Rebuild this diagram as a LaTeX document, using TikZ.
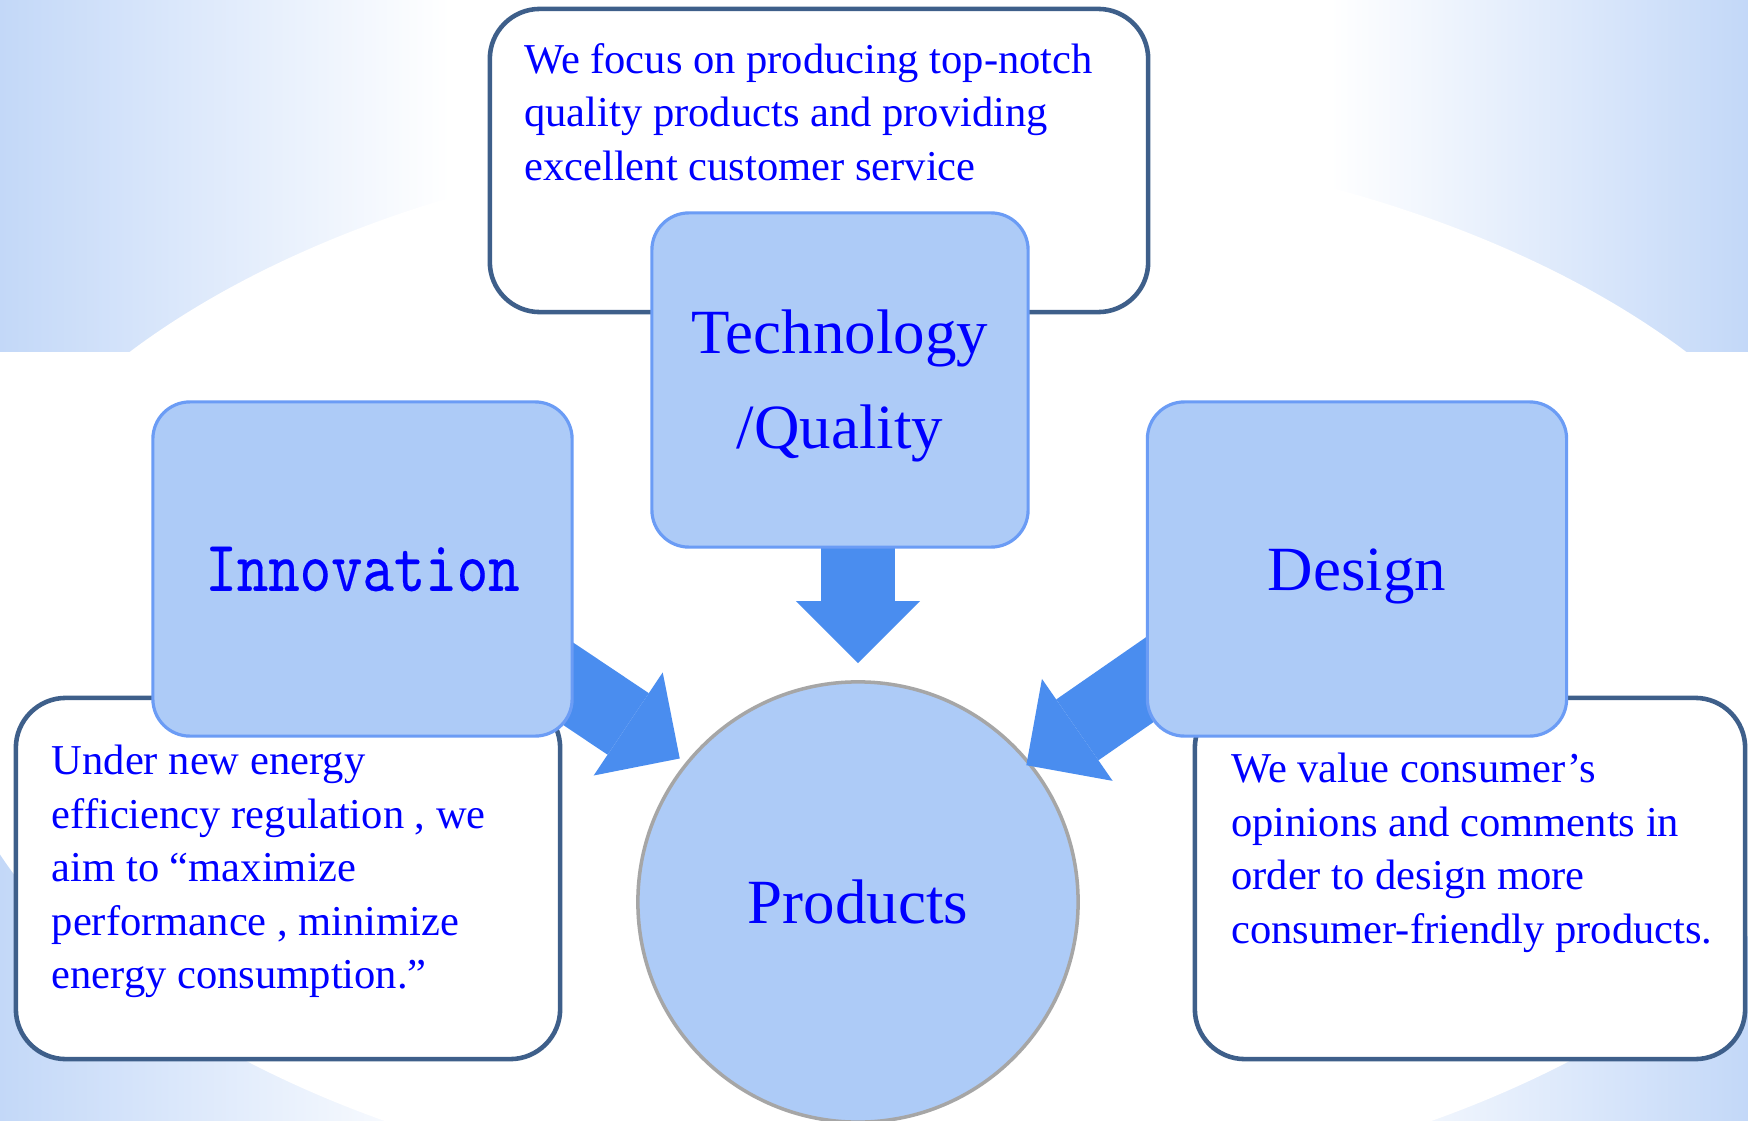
\documentclass[tikz,border=0pt]{standalone}
\usepackage{fontspec}
\setmainfont{Liberation Serif}
\newfontfamily\monoface[FakeStretch=0.83, FakeBold=0.25]{lmmono10-regular.otf}
\usetikzlibrary{shapes.geometric, arrows.meta, positioning, calc, backgrounds}
\definecolor{SkyTint}{HTML}{C3D8F8}
\definecolor{PillarFill}{HTML}{ADCBF7}
\definecolor{PillarEdge}{HTML}{6B9CF5}
\definecolor{ArrowBlue}{HTML}{4A8DEF}
\definecolor{NoteEdge}{HTML}{3E5F8A}
\definecolor{HubEdge}{HTML}{A6A6A6}
\definecolor{InkBlue}{HTML}{0000FF}

\begin{document}
\begin{tikzpicture}[
    x=0.01cm, y=-0.01cm,
    pillar/.style={rectangle, rounded corners=0.37cm, fill=PillarFill, draw=PillarEdge, line width=0.9pt,
                   minimum width=4.19cm, minimum height=3.34cm, text=InkBlue, align=center,
                   font=\fontsize{17.9}{27}\selectfont},
    note/.style={rectangle, rounded corners=0.5cm, fill=white, draw=NoteEdge, line width=1.3pt,
                 minimum height=3.61cm},
    notetext/.style={inner sep=0pt, align=left, text=InkBlue, font=\fontsize{12.1}{15.2}\selectfont},
    hub/.style={circle, fill=PillarFill, draw=HubEdge, line width=1pt, minimum size=4.4cm,
                text=InkBlue, font=\fontsize{17.9}{21}\selectfont},
    bigarrow/.style={ArrowBlue, line width=0.74cm,
                     -{Triangle[length=0.62cm, width=1.24cm, line width=0pt]}}
]
    \useasboundingbox (0,0) rectangle (1748,1121);

    % Three pillars
    \node[pillar, minimum width=3.76cm] (tech) at (840,380) {\rule{0pt}{0.55cm}Technology\\/Quality};
    \node[pillar, font=\monoface\fontsize{20.5}{24}\selectfont] (innov) at (362.5,569) {Innovation};
    \node[pillar] (design) at (1357,569) {\rule{0pt}{0.57cm}Design};

    \begin{scope}[on background layer]
        % Backdrop
        \shade[left color=SkyTint, right color=white] (0,0) rectangle (450,1121);
        \shade[left color=white, right color=SkyTint] (1330,0) rectangle (1748,1121);
        \fill[white] (908,670) ellipse [x radius=9.66cm, y radius=5.36cm];
        \fill[white] (0,352) rectangle (1748,700);

        % Notes behind the pillars
        \node[note, minimum width=6.58cm, minimum height=3.03cm] (focus) at (819,160.5) {};
        \node[note, minimum width=5.44cm] (energy) at (288,878.5) {};
        \node[note, minimum width=5.50cm] (opinion) at (1470,878.5) {};

        \node[notetext, below right=0.36cm and 0.36cm of focus.north west] (focustext)
            {We focus on producing top-notch\\quality products and providing\\excellent customer service};
        \node[notetext, below right=0.49cm and 0.375cm of energy.north west] (energytext)
            {Under new energy\\efficiency regulation , we\\aim to “maximize\\performance , minimize\\energy consumption.”};
        \node[notetext, below right=0.57cm and 0.38cm of opinion.north west] (opiniontext)
            {We value consumer’s\\opinions and comments in\\order to design more\\consumer-friendly products.};

        % Centre
        \node[hub] (prod) at (858,902) {Products};

        % Arrows into the centre
        \draw[bigarrow] (tech.center -| prod.center) -- ([yshift=0.17cm]prod.north);
        \draw[bigarrow, shorten >=0.07cm] ([yshift=0.23cm]innov.center) -- (prod.141);
        \draw[bigarrow, shorten >=-0.05cm] ([yshift=0.33cm]design.center) -- (prod.39);
    \end{scope}
\end{tikzpicture}
\end{document}
